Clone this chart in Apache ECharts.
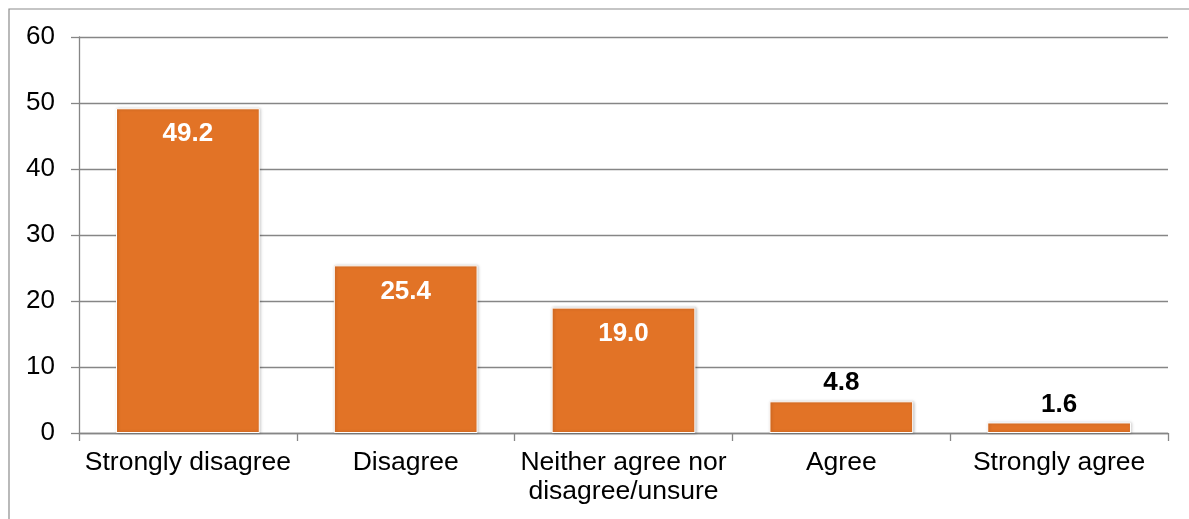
<!DOCTYPE html>
<html>
<head>
<meta charset="utf-8">
<script src="https://cdn.jsdelivr.net/npm/echarts@6/dist/echarts.min.js"></script>
<style>
html,body{margin:0;padding:0;background:#fff;}
#chart{width:1189px;height:519px;}
</style>
</head>
<body>
<div id="chart"></div>
<script>
const categories = ['Strongly disagree', 'Disagree', 'Neither agree nor\ndisagree/unsure', 'Agree', 'Strongly agree'];
const values = [49.2, 25.4, 19.0, 4.8, 1.6];
const insideLabel = [true, true, true, false, false];

const FONT = '"Liberation Sans", Arial, sans-serif';
const chart = echarts.init(document.getElementById('chart'));
chart.setOption({
  backgroundColor: '#fff',
  animation: false,
  graphic: [{
    type: 'rect',
    shape: { x: 9, y: 9, width: 1400, height: 700 },
    style: { fill: 'none', stroke: '#8c8c8c', lineWidth: 1.2 },
    silent: true
  }],
  grid: { left: 79, right: 21, top: 37, bottom: 86, containLabel: false },
  xAxis: {
    type: 'category',
    data: categories,
    axisLine: { show: true, lineStyle: { color: '#868686', width: 1.3 } },
    axisTick: { show: true, length: 8, alignWithLabel: false, lineStyle: { color: '#868686', width: 1.3 } },
    axisLabel: { color: '#000', fontFamily: FONT, fontSize: 26.5, margin: 15, lineHeight: 29, interval: 0 }
  },
  yAxis: {
    type: 'value',
    min: 0, max: 60, interval: 10,
    axisLine: { show: true, lineStyle: { color: '#868686', width: 1.3 } },
    axisTick: { show: true, length: 8, lineStyle: { color: '#868686', width: 1.3 } },
    axisLabel: { color: '#000', fontFamily: FONT, fontSize: 26, margin: 24 },
    splitLine: { show: true, lineStyle: { color: '#868686', width: 1.3 } }
  },
  series: [{
    type: 'bar',
    data: values.map((v, i) => ({
      value: v,
      label: insideLabel[i]
        ? { position: 'insideTop', distance: 13, color: '#fff' }
        : { position: 'top', distance: 5, color: '#000' }
    })),
    barCategoryGap: '34%',
    itemStyle: {
      color: '#E27326',
      borderColor: '#ffffff',
      borderWidth: 1,
      shadowColor: 'rgba(0,0,0,0.25)',
      shadowBlur: 3,
      shadowOffsetX: 1,
      shadowOffsetY: 0
    },
    label: {
      show: true,
      fontFamily: FONT,
      fontSize: 26,
      fontWeight: 'bold',
      formatter: p => p.value.toFixed(1)
    }
  }]
});
</script>
</body>
</html>
